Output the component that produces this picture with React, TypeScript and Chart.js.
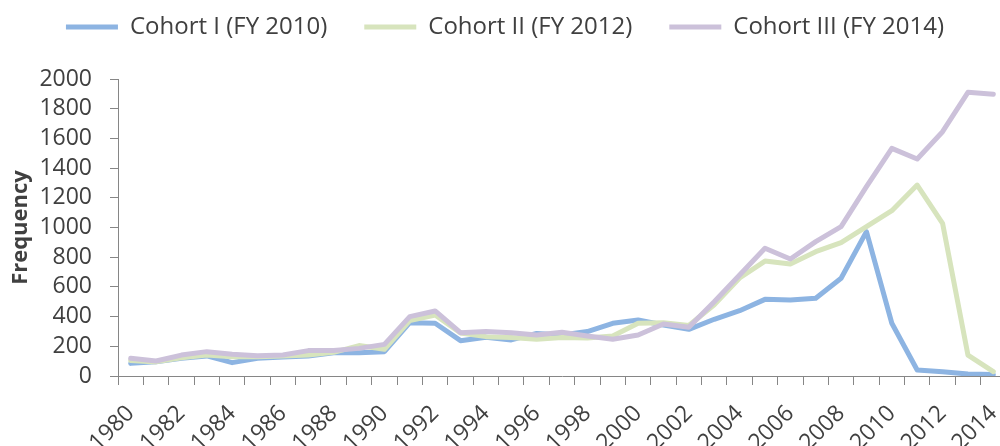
import React, { useEffect, useRef } from 'react';
import { Chart, registerables } from 'chart.js';

Chart.register(...registerables);

const years = [
  '1980', '1981', '1982', '1983', '1984', '1985', '1986', '1987', '1988', '1989',
  '1990', '1991', '1992', '1993', '1994', '1995', '1996', '1997', '1998', '1999',
  '2000', '2001', '2002', '2003', '2004', '2005', '2006', '2007', '2008', '2009',
  '2010', '2011', '2012', '2013', '2014',
];

const cohortI = [
  85, 96, 119, 135, 90, 119, 128, 135, 157, 157,
  164, 359, 355, 238, 261, 243, 287, 276, 299, 355,
  377, 343, 314, 382, 440, 516, 512, 523, 658, 972,
  355, 40, 29, 13, 10,
];

const cohortII = [
  105, 95, 123, 141, 130, 130, 135, 141, 159, 205,
  180, 373, 411, 290, 265, 260, 247, 260, 256, 269,
  355, 359, 340, 480, 660, 774, 754, 837, 898, 1006,
  1113, 1286, 1028, 141, 29,
];

const cohortIII = [
  119, 101, 141, 164, 146, 137, 141, 171, 171, 186,
  213, 400, 438, 292, 299, 292, 276, 294, 269, 247,
  276, 350, 328, 500, 680, 860, 788, 905, 1006, 1275,
  1533, 1461, 1645, 1910, 1897,
];

const seriesNames = ['Cohort I (FY 2010)', 'Cohort II (FY 2012)', 'Cohort III (FY 2014)'];
const seriesColors = ['#8DB4E2', '#D7E4BD', '#CCC1DA'];

const FONT = "'Open Sans', 'Noto Sans', sans-serif";
const TEXT = '#404040';
const AXIS = '#868686';

export default function App() {
  const canvasRef = useRef<HTMLCanvasElement | null>(null);

  useEffect(() => {
    if (!canvasRef.current) return;
    const seriesData = [cohortI, cohortII, cohortIII];
    const chart = new Chart(canvasRef.current, {
      type: 'line',
      data: {
        labels: years,
        datasets: seriesData.map((d, i) => ({
          label: seriesNames[i],
          data: d,
          borderColor: seriesColors[i],
          backgroundColor: seriesColors[i],
          borderWidth: 5,
          pointRadius: 0,
          tension: 0,
          fill: false,
          borderJoinStyle: 'round' as const,
          borderCapStyle: 'round' as const,
          order: 2 - i,
        })),
      },
      options: {
        animation: false,
        responsive: true,
        maintainAspectRatio: false,
        layout: { padding: { left: 4, right: 0, top: 11, bottom: 0 } },
        plugins: {
          legend: {
            position: 'top',
            labels: {
              font: { family: FONT, size: 24 },
              color: TEXT,
              boxWidth: 52,
              boxHeight: 5,
              padding: 37,
              sort: (a: any, b: any) => a.datasetIndex - b.datasetIndex,
              generateLabels: (c: any) => {
                const items = Chart.defaults.plugins.legend.labels.generateLabels(c);
                return items.map((it: any) => ({
                  ...it,
                  fillStyle: it.strokeStyle,
                  lineWidth: 0,
                }));
              },
            },
          },
          subtitle: {
            display: true,
            text: ' ',
            position: 'top',
            weight: 500,
            font: { size: 10, lineHeight: 1 },
            padding: { top: 10, bottom: 10 },
          },
          tooltip: { enabled: false },
        },
        scales: {
          x: {
            type: 'category',
            offset: true,
            afterFit: (scale: any) => {
              scale.height = 70;
              scale.paddingLeft = 0;
              scale.paddingRight = 0;
            },
            grid: {
              offset: true,
              drawOnChartArea: false,
              drawTicks: true,
              tickLength: 9,
              color: AXIS,
            },
            border: { color: AXIS, width: 1 },
            ticks: {
              autoSkip: false,
              maxRotation: 45,
              minRotation: 45,
              padding: 15,
              font: { family: FONT, size: 23 },
              color: TEXT,
              callback: (_v: any, i: number) => (i % 2 === 0 ? years[i] : ''),
            },
          },
          y: {
            min: 0,
            max: 2000,
            afterFit: (scale: any) => {
              scale.width = 114;
            },
            ticks: {
              stepSize: 200,
              autoSkip: false,
              padding: 18,
              font: { family: FONT, size: 23 },
              color: TEXT,
              callback: (v: any) => String(v),
            },
            grid: {
              drawOnChartArea: false,
              drawTicks: true,
              tickLength: 8,
              color: AXIS,
            },
            border: { color: AXIS, width: 1 },
            title: {
              display: true,
              text: 'Frequency',
              font: { family: FONT, size: 22, weight: 'bold' },
              color: TEXT,
              padding: 4,
            },
          },
        },
      },
    } as any);
    return () => chart.destroy();
  }, []);

  return (
    <div style={{ position: 'absolute', left: 0, top: 0, width: 1000, height: 446, overflow: 'hidden', background: '#fff' }}>
      <div style={{ position: 'absolute', left: 0, top: -33, width: 1006, height: 479 }}>
        <canvas ref={canvasRef} />
      </div>
    </div>
  );
}
